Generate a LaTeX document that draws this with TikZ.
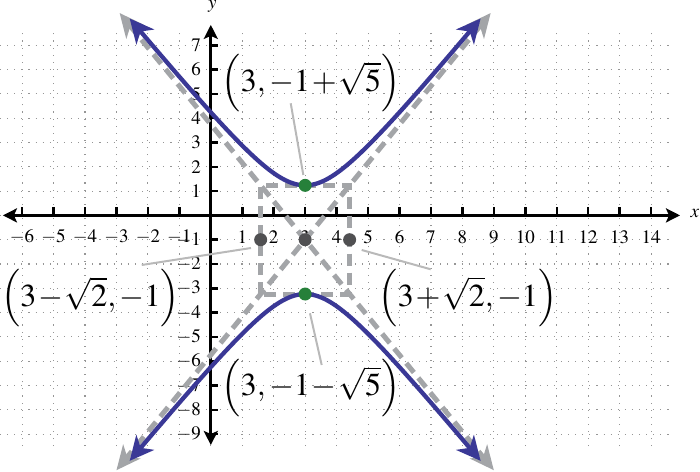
\documentclass[tikz,border=0pt]{standalone}
\usepackage{mathptmx}
\usetikzlibrary{arrows.meta}
\definecolor{hypblue}{RGB}{58,56,150}
\definecolor{asygray}{RGB}{163,165,168}
\definecolor{dotgreen}{RGB}{38,128,58}
\definecolor{dotgray}{RGB}{80,80,82}
\definecolor{leadgray}{RGB}{185,185,185}
\definecolor{gridgray}{RGB}{150,150,150}
\newcommand{\tightmath}{\medmuskip=1mu\relax\thinmuskip=2mu\relax}
\begin{document}
\begin{tikzpicture}[x=31.45pt,y=24.3pt,
  gridline/.style={gridgray, line width=1.1pt, dash pattern=on 1.1pt off 6pt},
  axisline/.style={black, line width=3pt, {Stealth[length=14pt,width=14pt,inset=3pt]}-{Stealth[length=14pt,width=14pt,inset=3pt]}},
  tickmark/.style={black, line width=2.5pt},
  ticklab/.style={font=\fontsize{19}{19}\selectfont, inner sep=0pt},
  asym/.style={asygray, line width=5pt, dash pattern=on 12pt off 7pt},
  asymarrow/.style={asym, {Stealth[length=24pt,width=22pt,inset=7pt]}-{Stealth[length=24pt,width=22pt,inset=7pt]}},
  hyp/.style={hypblue, line width=4.3pt, {Stealth[length=24pt,width=23pt,inset=7pt]}-{Stealth[length=24pt,width=23pt,inset=7pt]}},
  leader/.style={leadgray, line width=2pt},
  ptdot/.style={circle, inner sep=0pt, minimum size=13pt},
  biglab/.style={font=\fontsize{32}{32}\selectfont, inner sep=0pt}
]
\useasboundingbox (-6.703,-10.560) rectangle (15.555,8.864);
% grid
\foreach \i in {-6,...,14} \draw[gridline] (\i,-9.5) -- (\i,7.5);
\foreach \j in {-9,...,7} \draw[gridline] (-6.7,\j) -- (14.6,\j);
% axes
\coordinate (xl) at (-6.61,0);
\coordinate (xr) at (14.92,0);
\coordinate (yb) at (0,-9.45);
\coordinate (yt) at (0,7.84);
\draw[axisline] (xl) -- (xr);
\draw[axisline] (yb) -- (yt);
\foreach \i in {-6,...,-1,1,2,...,14} {
  \draw[tickmark] (\i,0) -- (\i,0.33);
  \node[ticklab] (tx\i) at (\i,-0.89) {$\i$};
}
\foreach \j in {-9,...,-1,1,2,...,7} {
  \draw[tickmark] (0,\j) -- (0.23,\j);
  \node[ticklab, anchor=east] (ty\j) at (-0.31,\j) {$\j$};
}
\node[ticklab] (xlab) at (15.39,0.08) {$x$};
\node[ticklab] (ylab) at (0.05,8.6) {$y$};
% rectangle and asymptotes
\coordinate (ra) at ({3-sqrt(2)},{-1-sqrt(5)});
\coordinate (rb) at ({3+sqrt(2)},{-1+sqrt(5)});
\draw[asym] (ra) rectangle (rb);
\coordinate (a1s) at ({3-5.9},{-1+1.5811*5.9});
\coordinate (a1e) at ({3+6.0},{-1-1.5811*6.0});
\coordinate (a2s) at ({3+5.9},{-1+1.5811*5.9});
\coordinate (a2e) at ({3-6.0},{-1-1.5811*6.0});
\draw[asymarrow] (a1s) -- (a1e);
\draw[asymarrow] (a2s) -- (a2e);
% hyperbola
\draw[hyp] plot[domain=-5.58:5.58, samples=80, smooth, variable=\t] ({3+\t},{-1+sqrt(5)*sqrt(1+\t*\t/2)});
\draw[hyp] plot[domain=-5.58:5.58, samples=80, smooth, variable=\t] ({3+\t},{-1-sqrt(5)*sqrt(1+\t*\t/2)});
% labels
\node[biglab] (l1) at (3.186,5.43) {$\tightmath\left(3,-1+\sqrt{5}\right)$};
\node[biglab] (l2) at (-3.825,-3.42) {$\tightmath\left(3-\sqrt{2},-1\right)$};
\node[biglab] (l3) at (8.178,-3.40) {$\tightmath\left(3+\sqrt{2},-1\right)$};
\node[biglab] (l4) at (3.186,-7.10) {$\tightmath\left(3,-1-\sqrt{5}\right)$};
% leader lines
\coordinate (c1a) at (2.541,4.613); \coordinate (c1b) at (2.942,1.663);
\coordinate (c2a) at (-2.196,-2.041); \coordinate (c2b) at (1.278,-1.342);
\coordinate (c3a) at (4.798,-1.424); \coordinate (c3b) at (6.992,-2.218);
\coordinate (c4a) at (3.154,-4.029); \coordinate (c4b) at (3.526,-6.157);
\draw[leader] (c1a) -- (c1b);
\draw[leader] (c2a) -- (c2b);
\draw[leader] (c3a) -- (c3b);
\draw[leader] (c4a) -- (c4b);
% points
\node[ptdot, fill=dotgray] (pl) at ({3-sqrt(2)},-1) {};
\node[ptdot, fill=dotgray] (pc) at (3,-1) {};
\node[ptdot, fill=dotgray] (pr) at ({3+sqrt(2)},-1) {};
\node[ptdot, fill=dotgreen] (vt) at (3,{-1+sqrt(5)}) {};
\node[ptdot, fill=dotgreen] (vb) at (3,{-1-sqrt(5)}) {};
\end{tikzpicture}
\end{document}
